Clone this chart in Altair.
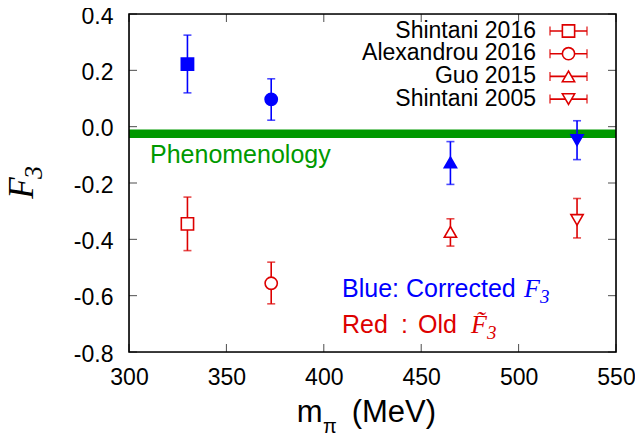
import altair as alt
import pandas as pd

# ---------------- data ----------------
series = ["Shintani 2016", "Alexandrou 2016", "Guo 2015", "Shintani 2005"]
shapes = ["square", "circle", "triangle-up", "triangle-down"]
mass = [330, 373, 465, 530]

corr_val = [0.222, 0.097, -0.127, -0.048]
corr_lo = [0.120, 0.023, -0.205, -0.117]
corr_hi = [0.325, 0.170, -0.053, 0.021]

old_val = [-0.345, -0.556, -0.374, -0.331]
old_lo = [-0.440, -0.629, -0.424, -0.395]
old_hi = [-0.250, -0.481, -0.327, -0.255]

pheno_lo = -0.040
pheno_hi = -0.010

x_ticks = [300, 350, 400, 450, 500, 550]
y_ticks = [-0.8, -0.6, -0.4, -0.2, 0.0, 0.2, 0.4]

BLUE = "#0000ff"
RED = "#dd0000"
GREEN = "#009900"
W, H = 487, 338
SANS = "Liberation Sans"
SERIF = "Liberation Serif"

rows = []
for i, s in enumerate(series):
    rows.append(dict(series=s, mass=mass[i], val=corr_val[i], lo=corr_lo[i], hi=corr_hi[i], kind="Corrected"))
    rows.append(dict(series=s, mass=mass[i], val=old_val[i], lo=old_lo[i], hi=old_hi[i], kind="Old"))
df = pd.DataFrame(rows)

xs = alt.Scale(domain=[300, 550], nice=False, zero=False)
ys = alt.Scale(domain=[-0.8, 0.4], nice=False, zero=False)
col = alt.Color("kind:N", scale=alt.Scale(domain=["Corrected", "Old"], range=[BLUE, RED]), legend=None)
fil = alt.Fill("kind:N", scale=alt.Scale(domain=["Corrected", "Old"], range=[BLUE, "white"]), legend=None)
shp = alt.Shape("series:N", scale=alt.Scale(domain=series, range=shapes), legend=None)

lab = "replace(format(datum.value, '.1f'), '\u2212', '-')"

base = alt.Chart(df)

# green band
band = alt.Chart(pd.DataFrame({"x0": [300], "x1": [550], "lo": [pheno_lo], "hi": [pheno_hi]})).mark_rect(
    color=GREEN).encode(
    x=alt.X("x0:Q", scale=xs,
            axis=alt.Axis(title=None, values=x_ticks, ticks=False, domain=False, grid=False,
                          labelFont=SANS, labelFontSize=23, labelColor="black", labelPadding=14,
                          labelFlush=False)),
    x2="x1:Q",
    y=alt.Y("lo:Q", scale=ys,
            axis=alt.Axis(title=None, values=y_ticks, ticks=False, domain=False, grid=False,
                          labelFont=SANS, labelFontSize=23, labelColor="black", labelPadding=16,
                          labelOffset=2, labelExpr=lab, labelFlush=False)),
    y2="hi:Q",
)

bars = base.mark_rule(strokeWidth=1.6).encode(
    x=alt.X("mass:Q", scale=xs), y=alt.Y("lo:Q", scale=ys), y2="hi:Q", color=col)
cap_lo = base.mark_tick(orient="horizontal", size=8, thickness=1.6).encode(
    x=alt.X("mass:Q", scale=xs), y=alt.Y("lo:Q", scale=ys), color=col)
cap_hi = base.mark_tick(orient="horizontal", size=8, thickness=1.6).encode(
    x=alt.X("mass:Q", scale=xs), y=alt.Y("hi:Q", scale=ys), color=col)
pts = base.mark_point(size=150, strokeWidth=1.6, opacity=1).encode(
    x=alt.X("mass:Q", scale=xs), y=alt.Y("val:Q", scale=ys), color=col, fill=fil, shape=shp)

# frame and inward ticks
frame = alt.Chart(pd.DataFrame({"a": [0]})).mark_rect(fill=None, stroke="black", strokeWidth=1.6).encode(
    x=alt.value(0), x2=alt.value(W), y=alt.value(0), y2=alt.value(H))
ytk = pd.DataFrame({"v": y_ticks})
xtk = pd.DataFrame({"v": x_ticks})
tl = alt.Chart(ytk).mark_tick(orient="horizontal", size=8, thickness=1, color="black").encode(
    y=alt.Y("v:Q", scale=ys), x=alt.value(4))
tr = alt.Chart(ytk).mark_tick(orient="horizontal", size=8, thickness=1, color="black").encode(
    y=alt.Y("v:Q", scale=ys), x=alt.value(W - 4))
tb = alt.Chart(xtk).mark_tick(orient="vertical", size=8, thickness=1, color="black").encode(
    x=alt.X("v:Q", scale=xs), y=alt.value(H - 4))
tt = alt.Chart(xtk).mark_tick(orient="vertical", size=8, thickness=1, color="black").encode(
    x=alt.X("v:Q", scale=xs), y=alt.value(4))

# legend (drawn manually, symbols right of labels)
leg = pd.DataFrame({"series": series, "ty": [23.7 + 22.7 * i for i in range(4)],
                    "sy": [17 + 22.7 * i for i in range(4)]})
lc = alt.Chart(leg)
leg_text = lc.mark_text(align="right", baseline="alphabetic", font=SANS, fontSize=23, color="black").encode(
    x=alt.value(407), y=alt.Y("ty:Q", scale=None), text="series:N")
leg_rule = lc.mark_rule(color=RED, strokeWidth=1.6).encode(
    x=alt.value(421), x2=alt.value(458), y=alt.Y("sy:Q", scale=None))
leg_c1 = lc.mark_tick(orient="vertical", size=9, thickness=1.6, color=RED).encode(
    x=alt.value(421), y=alt.Y("sy:Q", scale=None))
leg_c2 = lc.mark_tick(orient="vertical", size=9, thickness=1.6, color=RED).encode(
    x=alt.value(458), y=alt.Y("sy:Q", scale=None))
leg_pt = lc.mark_point(size=150, strokeWidth=1.6, color=RED, fill="white", opacity=1).encode(
    x=alt.value(439.5), y=alt.Y("sy:Q", scale=None), shape=shp)

# annotations
def txt(s, x, y, size, color, font=SANS, style="normal", align="left", angle=0, baseline="alphabetic"):
    return alt.Chart(pd.DataFrame({"t": [s]})).mark_text(
        align=align, baseline=baseline, font=font, fontSize=size, color=color, fontStyle=style,
        angle=angle).encode(x=alt.value(x), y=alt.value(y), text="t:N")

ann = [
    txt("Phenomenology", 21, 149, 25, GREEN),
    txt("Blue: Corrected", 213, 283, 25, BLUE),
    txt("F", 395, 283, 26, BLUE, font=SERIF, style="italic"),
    txt("3", 411, 289, 19, BLUE, font=SERIF, style="italic"),
    txt("Red", 213, 319, 25, RED),
    txt(":", 272, 319, 25, RED),
    txt("Old", 289, 319, 25, RED),
    txt("F\u0303", 342, 319, 26, RED, font=SERIF, style="italic"),
    txt("3", 358, 325, 19, RED, font=SERIF, style="italic"),
    # x title
    txt("m", 167.7, 408, 31, "black"),
    txt("\u03c0", 194, 419, 20, "black"),
    txt("(MeV)", 222.7, 408, 31, "black"),
    # y title
    txt("F", -107.5, 174, 35, "black", font=SERIF, style="italic", align="center", angle=270, baseline="middle"),
    txt("3", -95, 158.5, 26, "black", font=SERIF, style="italic", align="center", angle=270, baseline="middle"),
]

chart = alt.layer(band, bars, cap_lo, cap_hi, pts, frame, tl, tr, tb, tt,
                  leg_rule, leg_c1, leg_c2, leg_pt, leg_text, *ann).properties(
    width=W, height=H,
    autosize=alt.AutoSizeParams(type="none"),
    padding={"left": 121, "top": 6, "right": 19, "bottom": 82},
).configure_view(stroke=None).configure(background="white")

chart.save("out.html", embed_options={"renderer": "svg", "actions": False})
